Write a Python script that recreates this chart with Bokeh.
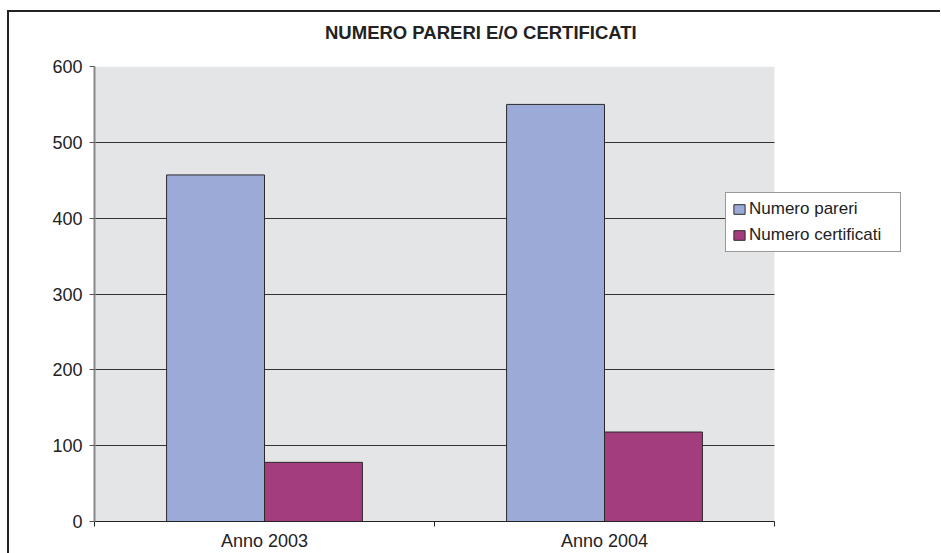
from bokeh.plotting import figure
from bokeh.models import ColumnDataSource, FixedTicker, Legend, LegendItem, Range1d, BoxAnnotation, Div
from bokeh.layouts import column
from bokeh.transform import dodge
from bokeh.embed import file_html
from bokeh.resources import INLINE

title_text = "NUMERO PARERI E/O CERTIFICATI"
categories = ["Anno 2003", "Anno 2004"]
pareri = [457, 550]
certificati = [78, 118]
series_names = ["Numero pareri", "Numero certificati"]
y_ticks = [0, 100, 200, 300, 400, 500, 600]

n = len(categories)
pos = [i + 0.5 for i in range(n)]
src = ColumnDataSource(dict(x=pos, pareri=pareri, certificati=certificati))

FONT = "Liberation Sans"

# frame extends right past the gray plot area so the legend can overlap it
x_extent = n * 835 / 680

title = Div(text=('<div style="padding-left:316px;padding-top:10px;white-space:nowrap;'
                  'font-family:\'Liberation Sans\';font-size:18.5px;font-weight:bold;'
                  'color:#222222;line-height:21px;">' + title_text + '</div>'),
            width=931, height=42, margin=0)

p = figure(width=931, height=499, output_backend="svg", toolbar_location=None,
           x_range=Range1d(0, x_extent), y_range=Range1d(0, 600),
           min_border_left=85, min_border_right=11, min_border_top=12, min_border_bottom=31,
           margin=0)

p.background_fill_color = "white"
p.border_fill_color = "white"
p.outline_line_color = None

p.add_layout(BoxAnnotation(left=0, right=n, bottom=0, top=600, fill_color="#E4E5E7",
                           fill_alpha=1, line_color=None, level="image"))

r1 = p.vbar(x=dodge("x", -0.144), top="pareri", width=0.288, source=src,
            fill_color="#9CAAD7", line_color="#2a2a2a", line_width=1)
r2 = p.vbar(x=dodge("x", 0.144), top="certificati", width=0.288, source=src,
            fill_color="#A43D7D", line_color="#2a2a2a", line_width=1)

# axes
p.xaxis.bounds = (0, n)
p.xaxis.ticker = FixedTicker(ticks=pos, minor_ticks=list(range(n + 1)))
p.xaxis.major_label_overrides = {v: c for v, c in zip(pos, categories)}
p.xaxis.major_tick_out = 0
p.xaxis.major_tick_in = 0
p.xaxis.minor_tick_out = 5
p.xaxis.minor_tick_in = 0
p.xaxis.minor_tick_line_color = "#222222"
p.xaxis.axis_line_color = "#222222"
p.xaxis.major_label_standoff = 4
p.xaxis.major_label_text_font = FONT
p.xaxis.major_label_text_font_size = "18px"
p.xaxis.major_label_text_color = "#222222"

p.yaxis.ticker = FixedTicker(ticks=y_ticks)
p.yaxis.axis_line_color = "#888888"
p.yaxis.axis_line_width = 2
p.yaxis.major_tick_out = 5
p.yaxis.major_tick_in = 0
p.yaxis.major_tick_line_color = "#555555"
p.yaxis.minor_tick_line_color = None
p.yaxis.major_label_standoff = 7
p.yaxis.major_label_text_font = FONT
p.yaxis.major_label_text_font_size = "18px"
p.yaxis.major_label_text_color = "#222222"

p.xgrid.grid_line_color = None
p.ygrid.grid_line_color = "#333333"
p.ygrid.grid_line_width = 1
p.ygrid.cross_bounds = (0, n)
p.ygrid.level = "underlay"

legend = Legend(items=[LegendItem(label=series_names[0], renderers=[r1]),
                       LegendItem(label=series_names[1], renderers=[r2])],
                location=(631, 269))
legend.border_line_color = "#333333"
legend.border_line_width = 1
legend.background_fill_color = "white"
legend.background_fill_alpha = 1
legend.label_text_font = FONT
legend.label_text_font_size = "17px"
legend.label_text_color = "#222222"
legend.glyph_width = 14
legend.glyph_height = 12
legend.label_standoff = 3
legend.label_width = 145
legend.padding = 6
legend.spacing = 6
legend.margin = 0
p.add_layout(legend, "center")

layout = column(title, p, spacing=0)
layout.styles = {"border-top": "2px solid #222", "border-left": "2px solid #222",
                 "margin-top": "10px", "margin-left": "7px"}

open("out.html", "w").write(file_html(layout, INLINE))
